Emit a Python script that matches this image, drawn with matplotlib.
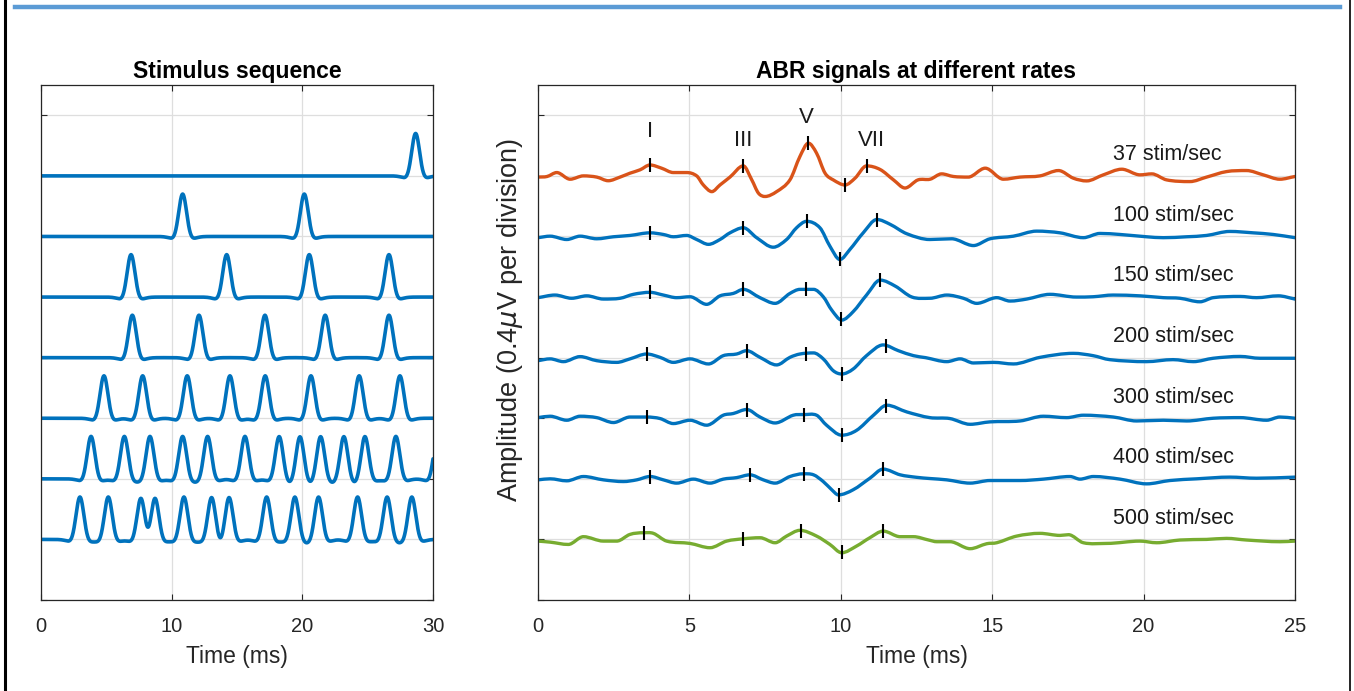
import numpy as np
import matplotlib
matplotlib.use("Agg")
import matplotlib.pyplot as plt
from matplotlib.path import Path
from matplotlib.patches import PathPatch
from matplotlib.lines import Line2D

plt.rcParams['font.family'] = ['Liberation Sans', 'DejaVu Sans']
plt.rcParams['mathtext.fontset'] = 'dejavusans'

# ---------------- stimulus click times (ms), one row per rate, top to bottom
stim_rows = [
    [28.67],
    [10.84, 20.15],
    [6.89, 14.21, 20.53, 26.63],
    [6.99, 12.09, 17.14, 21.75, 26.63],
    [4.82, 7.78, 11.19, 14.46, 17.16, 20.66, 24.35, 27.47],
    [3.83, 6.38, 8.34, 10.84, 12.75, 15.61, 18.23, 19.82, 21.40, 23.18, 24.79, 27.16, 30.35],
    [2.98, 5.15, 7.65, 8.72, 10.94, 13.06, 14.39, 17.27, 19.43, 21.24, 24.23, 26.49, 28.38],
]
click_height = 0.70          # divisions

# ---------------- ABR waveforms (time in ms, amplitude in divisions of 0.4 uV)
rates = ["37", "100", "150", "200", "300", "400", "500"]

t37 = [0, 0.3, 0.62, 1.06, 1.5, 1.94, 2.32, 2.71, 3.04, 3.37, 3.7, 4.08, 4.47, 4.91, 5.24, 5.46,
       5.74, 6.01, 6.34, 6.78, 7.06, 7.28, 7.5, 7.88, 8.32, 8.65, 8.93, 9.2, 9.48, 9.75, 10.14,
       10.47, 10.85, 11.3, 11.74, 12.12, 12.55, 12.95, 13.33, 13.72, 14.21, 14.77, 15.37, 15.92,
       16.58, 17.19, 17.68, 18.12, 18.67, 19.28, 19.88, 20.27, 20.76, 21.53, 22.08, 22.74, 23.4,
       23.95, 24.5, 25.0]
a37 = [-0.02, -0.01, 0.055, -0.055, 0, -0.02, -0.08, -0.02, 0.045, 0.10, 0.18, 0.127, 0.055, 0.055,
       0, -0.15, -0.26, -0.15, -0.02, 0.165, -0.066, -0.285, -0.34, -0.26, -0.066, 0.32, 0.54, 0.375,
       0.045, -0.066, -0.15, -0.038, 0.165, 0.105, -0.066, -0.2, -0.066, -0.055, 0.033, -0.01, -0.02,
       0.127, -0.055, -0.02, 0, 0.088, -0.038, -0.083, 0.017, 0.11, 0.017, 0.033, -0.066, -0.094,
       -0.02, 0.071, 0.088, 0.017, -0.055, -0.01]

t100 = [0, 0.4, 0.95, 1.39, 1.94, 2.49, 3.04, 3.7, 4.14, 4.47, 4.91, 5.24, 5.63, 6.01, 6.34, 6.78,
        7.22, 7.77, 8.21, 8.54, 8.87, 9.31, 9.64, 9.97, 10.3, 10.74, 11.19, 11.63, 12.18, 12.94,
        13.66, 14.38, 14.93, 15.7, 16.47, 17.24, 18.01, 18.56, 19.22, 20.1, 20.65, 21.42, 22.08,
        22.85, 23.62, 24.28, 25.0]
a100 = [-0.02, 0.005, -0.05, 0.005, -0.038, -0.005, 0.017, 0.06, 0.033, -0.005, 0.017, -0.05, -0.13,
        -0.05, 0.06, 0.144, -0.02, -0.177, -0.05, 0.144, 0.25, 0.144, -0.16, -0.38, -0.215, 0.06,
        0.28, 0.2, 0.045, -0.05, -0.038, -0.15, -0.038, 0.005, 0.088, 0.06, -0.02, 0.05, 0.033,
        -0.005, -0.02, -0.005, 0.017, 0.083, 0.06, 0.033, -0.02]

t150 = [0, 0.56, 1.11, 1.61, 2.16, 2.71, 3.15, 3.7, 4.14, 4.58, 5.02, 5.57, 6.01, 6.45, 6.78, 7.33,
        7.83, 8.32, 8.65, 9.1, 9.42, 9.7, 10.03, 10.41, 10.85, 11.3, 11.8, 12.35, 12.94, 13.5,
        14.05, 14.49, 15.15, 15.59, 16.14, 16.91, 17.78, 18.33, 18.99, 19.88, 20.65, 21.2, 21.86,
        22.3, 23.19, 23.73, 24.45, 25.0]
a150 = [-0.01, 0.033, -0.02, 0.02, -0.033, -0.02, 0.045, 0.078, 0.033, -0.01, 0.005, -0.12, 0.02,
        0.06, 0.127, -0.01, -0.104, 0.06, 0.127, 0.127, 0.005, -0.215, -0.38, -0.24, 0.033, 0.28,
        0.18, 0, -0.02, 0.033, -0.02, -0.104, -0.01, -0.066, -0.033, 0.045, 0, 0.005, 0.033, 0.02,
        -0.01, -0.02, -0.078, -0.01, 0.01, -0.01, 0.02, -0.033]

t200 = [0, 0.4, 0.84, 1.39, 1.94, 2.6, 3.04, 3.59, 4.03, 4.47, 5.02, 5.63, 6.12, 6.56, 6.89, 7.33,
        7.88, 8.32, 8.65, 9.1, 9.42, 9.75, 10.03, 10.41, 10.85, 11.4, 11.9, 12.4, 12.8, 13.5, 13.94,
        14.38, 15.04, 15.7, 16.58, 17.68, 18.33, 18.88, 20.09, 20.97, 21.64, 22.3, 23.19, 23.84, 25.0]
a200 = [-0.05, -0.02, -0.066, 0.017, -0.05, -0.078, -0.02, 0.06, 0.005, -0.078, -0.02, -0.104, 0.033,
        0.06, 0.115, 0.005, -0.12, 0.005, 0.06, 0.078, -0.02, -0.215, -0.27, -0.187, 0.033, 0.21,
        0.115, 0.033, 0, -0.066, -0.02, -0.088, -0.078, -0.104, 0.005, 0.071, 0.033, -0.033, -0.066,
        -0.033, -0.066, -0.01, 0.02, -0.01, -0.01]

t300 = [0, 0.4, 0.95, 1.39, 1.94, 2.49, 3.04, 3.59, 4.03, 4.47, 5.02, 5.57, 6.12, 6.45, 6.89, 7.33,
        7.83, 8.43, 8.79, 9.2, 9.53, 10.03, 10.52, 11.08, 11.52, 12.18, 12.94, 13.6, 14.27, 14.93,
        15.92, 16.69, 17.46, 18.01, 19.0, 19.77, 20.65, 21.42, 22.3, 23.19, 24.06, 24.5, 25.0]
a300 = [0.01, 0.033, -0.033, 0.033, 0.01, -0.071, 0.02, 0.02, -0.005, -0.088, -0.033, -0.115, 0.05,
        0.078, 0.144, 0.02, -0.078, 0.05, 0.06, 0.05, -0.115, -0.28, -0.2, 0.05, 0.215, 0.104, 0.01,
        -0.005, -0.1, -0.06, -0.045, 0.033, 0.01, 0.05, 0.02, -0.045, -0.033, -0.045, 0, 0.01,
        -0.033, 0.02, 0]

t400 = [0, 0.4, 0.95, 1.5, 2.16, 2.82, 3.26, 3.7, 4.14, 4.58, 5.13, 5.68, 6.12, 6.56, 7.0, 7.44,
        7.83, 8.32, 8.76, 9.1, 9.42, 9.7, 9.92, 10.41, 10.96, 11.4, 11.96, 12.5, 12.94, 13.5, 14.27,
        14.93, 15.92, 16.69, 17.57, 17.9, 18.34, 19.22, 20.1, 20.87, 21.75, 22.85, 23.73, 25.0]
a400 = [-0.017, 0, -0.033, 0.038, -0.017, -0.045, -0.017, 0.038, -0.017, -0.071, -0.005, -0.071,
        -0.005, 0.02, 0.066, -0.017, -0.071, 0.038, 0.083, 0.066, -0.045, -0.18, -0.265, -0.18, 0.01,
        0.16, 0.066, 0.025, 0.005, -0.017, -0.071, -0.028, -0.028, -0.005, 0.038, -0.005, 0.038,
        -0.005, -0.083, -0.028, 0, 0.028, 0.01, 0.028]

t500 = [0, 0.4, 1.0, 1.5, 2.16, 2.6, 3.04, 3.48, 3.81, 4.25, 5.02, 5.68, 6.23, 6.78, 7.33, 7.83,
        8.21, 8.65, 9.2, 9.64, 10.03, 10.52, 10.96, 11.4, 11.96, 12.4, 12.9, 13.17, 13.61, 14.27,
        14.82, 15.15, 15.81, 16.58, 17.24, 17.52, 18.01, 18.78, 19.88, 20.43, 21.2, 22.08, 22.74,
        23.4, 24.5, 25.0]
a500 = [-0.028, -0.045, -0.083, 0.045, -0.028, -0.028, 0.083, 0.11, 0.1, -0.028, -0.066, -0.137,
        -0.028, 0.01, 0.028, -0.055, 0.055, 0.15, 0.055, -0.083, -0.22, -0.11, 0.028, 0.137, 0.045,
        0.045, -0.01, -0.038, -0.038, -0.153, -0.071, -0.055, 0.055, 0.1, 0.066, 0.078, -0.055,
        -0.066, -0.028, -0.055, -0.01, 0, 0.017, -0.01, -0.038, -0.028]

# latencies (ms) of the marked waves I, III, V, V-trough, VII for each rate
peaks37 = [3.70, 6.78, 8.93, 10.14, 10.85]
peaks100 = [3.70, 6.78, 8.87, 9.97, 11.19]
peaks150 = [3.70, 6.78, 8.85, 10.00, 11.29]
peaks200 = [3.59, 6.89, 8.85, 10.05, 11.49]
peaks300 = [3.59, 6.89, 8.79, 10.05, 11.49]
peaks400 = [3.70, 7.00, 8.79, 9.95, 11.40]
peaks500 = [3.50, 6.78, 8.69, 10.05, 11.40]

wave_names = ["I", "III", "V", "VII"]
wave_label_t = [3.70, 6.78, 8.87, 11.02]
wave_label_y = [7.73, 7.59, 7.97, 7.59]

C_BLUE = "#0072BD"
C_ORANGE = "#D95319"
C_GREEN = "#77AC30"
trace_colors = [C_ORANGE, C_BLUE, C_BLUE, C_BLUE, C_BLUE, C_BLUE, C_GREEN]
GRID = "#DEDEDE"
AXC = "#262626"

traces_t = [t37, t100, t150, t200, t300, t400, t500]
traces_a = [a37, a100, a150, a200, a300, a400, a500]
peak_lists = [peaks37, peaks100, peaks150, peaks200, peaks300, peaks400, peaks500]
baselines = [7, 6, 5, 4, 3, 2, 1]


def smooth_curve(t, y):
    """Cubic Hermite segments through the samples, as a Bezier path."""
    t = np.asarray(t, float)
    y = np.asarray(y, float)
    n = len(t)
    m = np.zeros(n)
    for i in range(n):
        if i == 0:
            m[i] = (y[1] - y[0]) / (t[1] - t[0])
        elif i == n - 1:
            m[i] = (y[-1] - y[-2]) / (t[-1] - t[-2])
        else:
            d0 = y[i] - y[i - 1]
            d1 = y[i + 1] - y[i]
            if d0 * d1 <= 0:
                m[i] = 0.0
            else:
                m[i] = (y[i + 1] - y[i - 1]) / (t[i + 1] - t[i - 1])
    verts = [(t[0], y[0])]
    codes = [Path.MOVETO]
    for i in range(n - 1):
        h = t[i + 1] - t[i]
        verts += [(t[i] + h / 3, y[i] + m[i] * h / 3),
                  (t[i + 1] - h / 3, y[i + 1] - m[i + 1] * h / 3),
                  (t[i + 1], y[i + 1])]
        codes += [Path.CURVE4] * 3
    return Path(verts, codes)


def click(dt):
    g1 = np.exp(-dt ** 2 / (2 * 0.31 ** 2))
    g2 = 0.16 * np.exp(-dt ** 2 / (2 * 0.58 ** 2))
    return click_height * (g1 - g2) / 0.84


def style_axes(ax, xmax, xstep):
    ax.set_xlim(0, xmax)
    ax.set_ylim(0, 8.5)
    ax.set_xticks(np.arange(0, xmax + 0.01, xstep))
    ax.set_yticks(np.arange(0, 9))
    ax.set_yticklabels([])
    ax.grid(True, color=GRID, lw=0.9)
    ax.set_axisbelow(True)
    ax.tick_params(direction="in", length=4, width=0.8, color=AXC, top=True, right=True,
                   labelsize=14.5, pad=12, labelcolor="#262626")
    for s in ax.spines.values():
        s.set_color(AXC)
        s.set_linewidth(0.9)
    ax.set_xlabel("Time (ms)", fontsize=16.5, color="#262626", labelpad=7)


fig = plt.figure(figsize=(13.54, 6.91), dpi=100)

# ---------------- left panel: stimulus sequences
axL = fig.add_axes([41 / 1354, 1 - 600 / 691, 392 / 1354, 515 / 691])
style_axes(axL, 30, 10)
tt = np.linspace(0, 30, 3001)
for base, row in zip(baselines, stim_rows):
    yy = np.full_like(tt, float(base))
    for p in row:
        yy += click(tt - p)
    axL.plot(tt, yy, color=C_BLUE, lw=2.6, solid_capstyle="round")
axL.set_title("Stimulus sequence", fontsize=16.5, fontweight="bold", pad=5)

# ---------------- right panel: ABR signals
axR = fig.add_axes([538 / 1354, 1 - 600 / 691, 757 / 1354, 515 / 691])
style_axes(axR, 25, 5)
for base, t, a, col, pk, rate in zip(baselines, traces_t, traces_a, trace_colors, peak_lists, rates):
    yv = np.asarray(a) + base
    patch = PathPatch(smooth_curve(t, yv), facecolor="none", edgecolor=col, lw=2.4,
                      capstyle="round", joinstyle="round")
    axR.add_patch(patch)
    pk_y = np.interp(pk, t, yv)
    axR.plot(pk, pk_y, ls="none", marker="|", ms=10, mew=1.5, color="black", zorder=5)
    axR.text(18.99, base + 0.35, f"{rate} stim/sec", fontsize=15.5, va="center", ha="left",
             color="#1a1a1a")
for name, x, y in zip(wave_names, wave_label_t, wave_label_y):
    axR.text(x, y, name, fontsize=16, ha="center", va="center", color="#1a1a1a")
axR.set_ylabel("Amplitude (0.4$\\mu$V per division)", fontsize=19.5, color="#262626")
axR.yaxis.set_label_coords(-0.017, 0.545)
axR.set_title("ABR signals at different rates", fontsize=16.5, fontweight="bold", pad=5)

# ---------------- page frame
fig.add_artist(Line2D([15 / 1354, 1340 / 1354], [1 - 7 / 691, 1 - 7 / 691], color="#5B9BD5",
                      lw=3.2, transform=fig.transFigure))
fig.add_artist(Line2D([5 / 1354, 5 / 1354], [0, 1], color="black", lw=2.2,
                      transform=fig.transFigure))
fig.add_artist(Line2D([1349.5 / 1354, 1349.5 / 1354], [0, 1], color="black", lw=1.2,
                      transform=fig.transFigure))

fig.savefig("out.png", dpi=100, facecolor="white")
